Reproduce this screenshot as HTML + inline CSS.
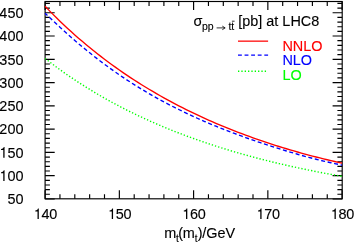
<!DOCTYPE html>
<html><head><meta charset="utf-8">
<style>
html,body{margin:0;padding:0;background:#fff;}
body{width:354px;height:244px;overflow:hidden;}
svg{display:block;transform:translateZ(0);will-change:transform;}
text{font-family:"Liberation Sans",sans-serif;font-size:14.45px;fill:#000;stroke:#000;stroke-width:0.12px;}
</style></head><body>
<svg width="354" height="244" viewBox="0 0 354 244">
<rect x="0" y="0" width="354" height="244" fill="#fff"/>
<path d="M45.10,198.95 h9.60 M342.20,198.95 h-9.60 M45.10,194.29 h4.80 M342.20,194.29 h-4.80 M45.10,189.64 h4.80 M342.20,189.64 h-4.80 M45.10,184.98 h4.80 M342.20,184.98 h-4.80 M45.10,180.33 h4.80 M342.20,180.33 h-4.80 M45.10,175.67 h9.60 M342.20,175.67 h-9.60 M45.10,171.02 h4.80 M342.20,171.02 h-4.80 M45.10,166.36 h4.80 M342.20,166.36 h-4.80 M45.10,161.71 h4.80 M342.20,161.71 h-4.80 M45.10,157.05 h4.80 M342.20,157.05 h-4.80 M45.10,152.40 h9.60 M342.20,152.40 h-9.60 M45.10,147.74 h4.80 M342.20,147.74 h-4.80 M45.10,143.09 h4.80 M342.20,143.09 h-4.80 M45.10,138.44 h4.80 M342.20,138.44 h-4.80 M45.10,133.78 h4.80 M342.20,133.78 h-4.80 M45.10,129.12 h9.60 M342.20,129.12 h-9.60 M45.10,124.47 h4.80 M342.20,124.47 h-4.80 M45.10,119.81 h4.80 M342.20,119.81 h-4.80 M45.10,115.16 h4.80 M342.20,115.16 h-4.80 M45.10,110.50 h4.80 M342.20,110.50 h-4.80 M45.10,105.85 h9.60 M342.20,105.85 h-9.60 M45.10,101.19 h4.80 M342.20,101.19 h-4.80 M45.10,96.54 h4.80 M342.20,96.54 h-4.80 M45.10,91.88 h4.80 M342.20,91.88 h-4.80 M45.10,87.23 h4.80 M342.20,87.23 h-4.80 M45.10,82.57 h9.60 M342.20,82.57 h-9.60 M45.10,77.92 h4.80 M342.20,77.92 h-4.80 M45.10,73.26 h4.80 M342.20,73.26 h-4.80 M45.10,68.61 h4.80 M342.20,68.61 h-4.80 M45.10,63.95 h4.80 M342.20,63.95 h-4.80 M45.10,59.30 h9.60 M342.20,59.30 h-9.60 M45.10,54.64 h4.80 M342.20,54.64 h-4.80 M45.10,49.99 h4.80 M342.20,49.99 h-4.80 M45.10,45.33 h4.80 M342.20,45.33 h-4.80 M45.10,40.68 h4.80 M342.20,40.68 h-4.80 M45.10,36.02 h9.60 M342.20,36.02 h-9.60 M45.10,31.37 h4.80 M342.20,31.37 h-4.80 M45.10,26.71 h4.80 M342.20,26.71 h-4.80 M45.10,22.06 h4.80 M342.20,22.06 h-4.80 M45.10,17.40 h4.80 M342.20,17.40 h-4.80 M45.10,12.75 h9.60 M342.20,12.75 h-9.60 M45.10,8.09 h4.80 M342.20,8.09 h-4.80 M45.10,3.44 h4.80 M342.20,3.44 h-4.80 M45.10,198.80 v-8.60 M45.10,1.50 v8.60 M59.95,198.80 v-4.50 M59.95,1.50 v4.50 M74.80,198.80 v-4.50 M74.80,1.50 v4.50 M89.65,198.80 v-4.50 M89.65,1.50 v4.50 M104.50,198.80 v-4.50 M104.50,1.50 v4.50 M119.35,198.80 v-8.60 M119.35,1.50 v8.60 M134.20,198.80 v-4.50 M134.20,1.50 v4.50 M149.05,198.80 v-4.50 M149.05,1.50 v4.50 M163.90,198.80 v-4.50 M163.90,1.50 v4.50 M178.75,198.80 v-4.50 M178.75,1.50 v4.50 M193.60,198.80 v-8.60 M193.60,1.50 v8.60 M208.45,198.80 v-4.50 M208.45,1.50 v4.50 M223.30,198.80 v-4.50 M223.30,1.50 v4.50 M238.15,198.80 v-4.50 M238.15,1.50 v4.50 M253.00,198.80 v-4.50 M253.00,1.50 v4.50 M267.85,198.80 v-8.60 M267.85,1.50 v8.60 M282.70,198.80 v-4.50 M282.70,1.50 v4.50 M297.55,198.80 v-4.50 M297.55,1.50 v4.50 M312.40,198.80 v-4.50 M312.40,1.50 v4.50 M327.25,198.80 v-4.50 M327.25,1.50 v4.50 M342.10,198.80 v-8.60 M342.10,1.50 v8.60" stroke="#000" stroke-width="1.15" fill="none"/>
<rect x="45.1" y="1.5" width="297.10" height="197.30" fill="none" stroke="#000" stroke-width="1.15"/>
<path d="M45.10,58.49 L48.81,61.36 L52.52,64.18 L56.24,66.94 L59.95,69.64 L63.66,72.29 L67.38,74.88 L71.09,77.42 L74.80,79.91 L78.51,82.35 L82.22,84.75 L85.94,87.09 L89.65,89.39 L93.36,91.64 L97.08,93.85 L100.79,96.01 L104.50,98.13 L108.21,100.21 L111.93,102.25 L115.64,104.25 L119.35,106.21 L123.06,108.14 L126.78,110.03 L130.49,111.88 L134.20,113.69 L137.91,115.47 L141.62,117.22 L145.34,118.94 L149.05,120.62 L152.76,122.27 L156.47,123.89 L160.19,125.48 L163.90,127.04 L167.61,128.57 L171.32,130.08 L175.04,131.55 L178.75,133.00 L182.46,134.42 L186.17,135.82 L189.89,137.19 L193.60,138.53 L197.31,139.85 L201.02,141.15 L204.74,142.42 L208.45,143.67 L212.16,144.90 L215.88,146.10 L219.59,147.28 L223.30,148.45 L227.01,149.59 L230.72,150.71 L234.44,151.81 L238.15,152.89 L241.86,153.95 L245.57,154.99 L249.29,156.01 L253.00,157.02 L256.71,158.00 L260.43,158.97 L264.14,159.92 L267.85,160.86 L271.56,161.77 L275.27,162.67 L278.99,163.56 L282.70,164.43 L286.41,165.28 L290.12,166.11 L293.84,166.94 L297.55,167.74 L301.26,168.53 L304.98,169.31 L308.69,170.08 L312.40,170.82 L316.11,171.56 L319.82,172.28 L323.54,172.99 L327.25,173.68 L330.96,174.37 L334.68,175.03 L338.39,175.69 L342.10,176.33" stroke="#00ff00" stroke-width="1.4" fill="none" stroke-dasharray="1.3 2.01"/>
<path d="M45.10,13.16 L48.81,16.76 L52.52,20.31 L56.24,23.81 L59.95,27.25 L63.66,30.64 L67.38,33.97 L71.09,37.25 L74.80,40.47 L78.51,43.63 L82.22,46.74 L85.94,49.80 L89.65,52.80 L93.36,55.74 L97.08,58.63 L100.79,61.47 L104.50,64.25 L108.21,66.98 L111.93,69.65 L115.64,72.27 L119.35,74.84 L123.06,77.36 L126.78,79.82 L130.49,82.24 L134.20,84.61 L137.91,86.93 L141.62,89.20 L145.34,91.43 L149.05,93.61 L152.76,95.74 L156.47,97.83 L160.19,99.88 L163.90,101.89 L167.61,103.85 L171.32,105.78 L175.04,107.67 L178.75,109.52 L182.46,111.33 L186.17,113.11 L189.89,114.85 L193.60,116.56 L197.31,118.24 L201.02,119.89 L204.74,121.51 L208.45,123.09 L212.16,124.65 L215.88,126.18 L219.59,127.69 L223.30,129.17 L227.01,130.62 L230.72,132.05 L234.44,133.46 L238.15,134.84 L241.86,136.20 L245.57,137.54 L249.29,138.86 L253.00,140.16 L256.71,141.44 L260.43,142.70 L264.14,143.94 L267.85,145.16 L271.56,146.36 L275.27,147.55 L278.99,148.71 L282.70,149.86 L286.41,150.98 L290.12,152.09 L293.84,153.18 L297.55,154.24 L301.26,155.29 L304.98,156.31 L308.69,157.31 L312.40,158.29 L316.11,159.24 L319.82,160.17 L323.54,161.07 L327.25,161.94 L330.96,162.78 L334.68,163.59 L338.39,164.36 L342.10,165.10" stroke="#0000ff" stroke-width="1.35" fill="none" stroke-dasharray="4 2.62" stroke-dashoffset="0.7"/>
<path d="M45.10,6.29 L48.81,10.14 L52.52,13.90 L56.24,17.58 L59.95,21.19 L63.66,24.73 L67.38,28.19 L71.09,31.58 L74.80,34.91 L78.51,38.16 L82.22,41.36 L85.94,44.48 L89.65,47.55 L93.36,50.56 L97.08,53.50 L100.79,56.39 L104.50,59.22 L108.21,62.00 L111.93,64.72 L115.64,67.39 L119.35,70.01 L123.06,72.58 L126.78,75.10 L130.49,77.57 L134.20,80.00 L137.91,82.38 L141.62,84.71 L145.34,87.00 L149.05,89.25 L152.76,91.45 L156.47,93.62 L160.19,95.74 L163.90,97.83 L167.61,99.87 L171.32,101.88 L175.04,103.85 L178.75,105.78 L182.46,107.68 L186.17,109.55 L189.89,111.38 L193.60,113.17 L197.31,114.93 L201.02,116.67 L204.74,118.36 L208.45,120.03 L212.16,121.67 L215.88,123.28 L219.59,124.86 L223.30,126.41 L227.01,127.93 L230.72,129.42 L234.44,130.89 L238.15,132.32 L241.86,133.74 L245.57,135.12 L249.29,136.48 L253.00,137.82 L256.71,139.13 L260.43,140.42 L264.14,141.68 L267.85,142.92 L271.56,144.13 L275.27,145.32 L278.99,146.49 L282.70,147.64 L286.41,148.77 L290.12,149.87 L293.84,150.95 L297.55,152.01 L301.26,153.06 L304.98,154.07 L308.69,155.07 L312.40,156.05 L316.11,157.01 L319.82,157.95 L323.54,158.87 L327.25,159.78 L330.96,160.66 L334.68,161.52 L338.39,162.37 L342.10,163.19" stroke="#ff0000" stroke-width="1.35" fill="none"/>
<text transform="translate(7.40,204.20) scale(1,1.055)">5</text>
<text transform="translate(15.50,204.20) scale(1,1.055)">0</text>
<path d="M343,0 L343,709 L286,709 C272,640 225,588 101,574 L101,508 L254,508 L254,0 Z" transform="translate(-0.40,180.92) scale(0.01445,-0.01502)" fill="#000"/>
<text transform="translate(7.40,180.92) scale(1,1.055)">0</text>
<text transform="translate(15.50,180.92) scale(1,1.055)">0</text>
<path d="M343,0 L343,709 L286,709 C272,640 225,588 101,574 L101,508 L254,508 L254,0 Z" transform="translate(-0.40,157.65) scale(0.01445,-0.01502)" fill="#000"/>
<text transform="translate(7.40,157.65) scale(1,1.055)">5</text>
<text transform="translate(15.50,157.65) scale(1,1.055)">0</text>
<text transform="translate(-0.70,134.38) scale(1,1.055)">2</text>
<text transform="translate(7.40,134.38) scale(1,1.055)">0</text>
<text transform="translate(15.50,134.38) scale(1,1.055)">0</text>
<text transform="translate(-0.70,111.10) scale(1,1.055)">2</text>
<text transform="translate(7.40,111.10) scale(1,1.055)">5</text>
<text transform="translate(15.50,111.10) scale(1,1.055)">0</text>
<text transform="translate(-0.70,87.82) scale(1,1.055)">3</text>
<text transform="translate(7.40,87.82) scale(1,1.055)">0</text>
<text transform="translate(15.50,87.82) scale(1,1.055)">0</text>
<text transform="translate(-0.70,64.55) scale(1,1.055)">3</text>
<text transform="translate(7.40,64.55) scale(1,1.055)">5</text>
<text transform="translate(15.50,64.55) scale(1,1.055)">0</text>
<text transform="translate(-0.70,41.27) scale(1,1.055)">4</text>
<text transform="translate(7.40,41.27) scale(1,1.055)">0</text>
<text transform="translate(15.50,41.27) scale(1,1.055)">0</text>
<text transform="translate(-0.70,18.00) scale(1,1.055)">4</text>
<text transform="translate(7.40,18.00) scale(1,1.055)">5</text>
<text transform="translate(15.50,18.00) scale(1,1.055)">0</text>
<path d="M343,0 L343,709 L286,709 C272,640 225,588 101,574 L101,508 L254,508 L254,0 Z" transform="translate(33.85,219.10) scale(0.01445,-0.01502)" fill="#000"/>
<text transform="translate(41.45,219.10) scale(1,1.055)">4</text>
<text transform="translate(49.35,219.10) scale(1,1.055)">0</text>
<path d="M343,0 L343,709 L286,709 C272,640 225,588 101,574 L101,508 L254,508 L254,0 Z" transform="translate(108.10,219.10) scale(0.01445,-0.01502)" fill="#000"/>
<text transform="translate(115.70,219.10) scale(1,1.055)">5</text>
<text transform="translate(123.60,219.10) scale(1,1.055)">0</text>
<path d="M343,0 L343,709 L286,709 C272,640 225,588 101,574 L101,508 L254,508 L254,0 Z" transform="translate(182.35,219.10) scale(0.01445,-0.01502)" fill="#000"/>
<text transform="translate(189.95,219.10) scale(1,1.055)">6</text>
<text transform="translate(197.85,219.10) scale(1,1.055)">0</text>
<path d="M343,0 L343,709 L286,709 C272,640 225,588 101,574 L101,508 L254,508 L254,0 Z" transform="translate(256.60,219.10) scale(0.01445,-0.01502)" fill="#000"/>
<text transform="translate(264.20,219.10) scale(1,1.055)">7</text>
<text transform="translate(272.10,219.10) scale(1,1.055)">0</text>
<path d="M343,0 L343,709 L286,709 C272,640 225,588 101,574 L101,508 L254,508 L254,0 Z" transform="translate(330.85,219.10) scale(0.01445,-0.01502)" fill="#000"/>
<text transform="translate(338.45,219.10) scale(1,1.055)">8</text>
<text transform="translate(346.35,219.10) scale(1,1.055)">0</text>
<text transform="translate(164.20,238.30) scale(1,1.055)">m</text>
<text transform="translate(176.00,241.90) scale(1,1.055)" style="font-size:10px">t</text>
<text transform="translate(178.30,238.30) scale(1,1.055)">(</text>
<text transform="translate(182.70,238.30) scale(1,1.055)">m</text>
<text transform="translate(194.70,241.90) scale(1,1.055)" style="font-size:10px">t</text>
<text transform="translate(197.85,238.30) scale(1,1.055)">)</text>
<text transform="translate(202.20,238.30) scale(1,1.055)">/GeV</text>
<text transform="translate(193.50,26.20) scale(1,1.055)">σ</text>
<text transform="translate(201.90,30.00) scale(1,1.055)" style="font-size:10.5px">pp</text>
<text transform="translate(228.40,30.00) scale(1,1.055)" style="font-size:10.5px">tt</text>
<text transform="translate(238.20,26.20) scale(1,1.055)">[pb] at LHC8</text>
<text transform="translate(282.40,50.65) scale(1,1.055)" style="fill:#ff0000;stroke:#ff0000">NNLO</text>
<text transform="translate(282.40,64.80) scale(1,1.055)" style="fill:#0000ff;stroke:#0000ff">NLO</text>
<text transform="translate(282.40,80.30) scale(1,1.055)" style="fill:#00ff00;stroke:#00ff00">LO</text>

<path d="M216.6,27.9 H224.6 M222.3,26.1 L225.2,27.9 L222.3,29.7" stroke="#000" stroke-width="0.8" fill="none"/>
<path d="M231.9,21.2 H234.6" stroke="#000" stroke-width="0.8" fill="none"/>
<path d="M238,41.15 H268.1" stroke="#ff0000" stroke-width="1.25"/>
<path d="M238,55.05 H268.1" stroke="#0000ff" stroke-width="1.3" stroke-dasharray="3.85 2.73"/>
<path d="M238,71.2 H268" stroke="#00ff00" stroke-width="1.4" stroke-dasharray="1.3 2.04"/>
</svg>
</body></html>
